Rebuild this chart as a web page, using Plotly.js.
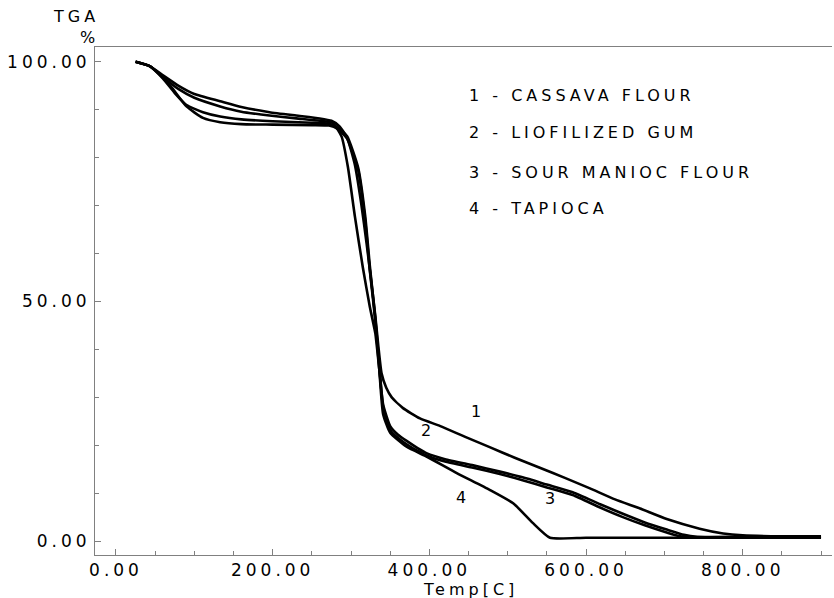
<!DOCTYPE html>
<html>
<head>
<meta charset="utf-8">
<script src="https://cdn.plot.ly/plotly-3.0.1.min.js"></script>
<style>
  html, body { margin: 0; padding: 0; background: #fff; }
  #chart { width: 834px; height: 598px; }
  .xtick text, .ytick text, .annotation-text { letter-spacing: 4px; }
</style>
</head>
<body>
<div id="chart"></div>
<script>
// ---- Data ----
const seriesNames = ['1 - CASSAVA FLOUR', '2 - LIOFILIZED GUM', '3 - SOUR MANIOC FLOUR', '4 - TAPIOCA'];

const t1 = [25, 43, 60, 80, 100, 133, 160, 196, 230, 260, 275, 285, 295, 305, 313, 320, 326, 331, 335, 339, 345, 352, 366, 388, 414, 445, 477, 509, 541, 573, 605, 637, 669, 703, 745, 775, 800, 850, 900];
const y1 = [100, 99.1, 97.2, 95.0, 93.3, 91.8, 90.6, 89.5, 88.8, 88.2, 87.7, 86.6, 84.2, 78.5, 70.5, 62, 54, 47, 40.5, 35, 32, 30, 27.8, 25.6, 24.0, 21.8, 19.6, 17.4, 15.3, 13.2, 11.0, 8.7, 6.8, 4.6, 2.6, 1.6, 1.2, 1.0, 1.0];

const t2 = [25, 43, 60, 80, 100, 133, 160, 196, 230, 260, 277, 288, 296, 305, 315, 324, 331, 336, 341, 350, 360, 371, 385, 397, 420, 456, 490, 519, 550, 583, 618, 647, 675, 703, 725, 742, 800, 900];
const y2 = [100, 99.1, 96.8, 94.3, 92.5, 90.7, 89.6, 88.8, 88.2, 87.7, 87.2, 84.4, 78.1, 67.7, 57.2, 48.9, 43.4, 36, 28.5, 24, 22.2, 20.9, 19.4, 18.3, 17.1, 15.8, 14.5, 13.3, 11.8, 10.2, 7.7, 5.7, 3.9, 2.4, 1.3, 0.9, 0.9, 0.9];

const t3 = [25, 43, 60, 75, 90, 111, 133, 160, 200, 250, 272, 283, 295, 309, 318, 324, 331, 336, 341, 350, 360, 371, 385, 397, 420, 456, 490, 519, 550, 583, 618, 647, 675, 703, 720, 735, 800, 900];
const y3 = [100, 99.1, 96.5, 93.5, 91.0, 89.5, 88.6, 88.0, 87.6, 87.3, 87.1, 86.3, 84.5, 78, 68, 57.5, 46.5, 37, 28, 23.2, 21.5, 20.2, 18.8, 17.8, 16.6, 15.3, 14.0, 12.7, 11.2, 9.6, 7.0, 5.0, 3.3, 1.8, 1.0, 0.8, 0.8, 0.8];

const t4 = [25, 43, 55, 70, 90, 111, 133, 160, 200, 250, 272, 283, 295, 309, 318, 324, 331, 336, 341, 350, 371, 397, 435, 477, 507, 532, 554, 600, 700, 800, 900];
const y4 = [100, 99.1, 97.5, 94.9, 90.7, 88.3, 87.4, 87.0, 86.9, 86.8, 86.7, 86.0, 84.0, 77.5, 67, 56.5, 46, 36, 26.5, 22.6, 19.7, 17.6, 14.2, 10.7, 7.9, 3.8, 0.7, 0.7, 0.7, 0.7, 0.7];

const xTickVals = [0, 200, 400, 600, 800];
const xTickText = ['0.00', '200.00', '400.00', '600.00', '800.00'];
const xMinorVals = [50, 100, 150, 250, 300, 350, 450, 500, 550, 650, 700, 750, 850, 900];
const yTickVals = [0, 50, 100];
const yTickText = ['0.00', '50.00', '100.00'];
const yMinorVals = [10, 20, 30, 40, 60, 70, 80, 90];

const curveLabels = ['1', '2', '3', '4'];
const curveLabelX = [462, 398, 556, 443];
const curveLabelY = [27.0, 23.0, 8.8, 9.2];

const legendY = [93.0, 85.2, 77.0, 69.3];
const legendX = 448;

// ---- Chart ----
const FONT = 'DejaVu Sans, Liberation Sans, Arial, sans-serif';
const AX = '#808080';
const xs = [t1, t2, t3, t4];
const ys = [y1, y2, y3, y4];

const traces = xs.map((tx, i) => ({
  x: tx, y: ys[i], type: 'scatter', mode: 'lines', name: seriesNames[i],
  line: { color: '#000', width: 2.6, shape: 'spline', smoothing: 0.5 },
  hoverinfo: 'skip'
}));

const annotations = [];
seriesNames.forEach((n, i) => annotations.push({
  x: legendX, y: legendY[i], xref: 'x', yref: 'y', text: n, showarrow: false,
  xanchor: 'left', yanchor: 'middle', font: { family: FONT, size: 16, color: '#000' }
}));
curveLabels.forEach((n, i) => annotations.push({
  x: curveLabelX[i], y: curveLabelY[i], xref: 'x', yref: 'y', text: n, showarrow: false,
  xanchor: 'center', yanchor: 'middle', font: { family: FONT, size: 16, color: '#000' }
}));
annotations.push({
  x: 0, y: 1, xref: 'paper', yref: 'paper', text: 'TGA<br>%', showarrow: false,
  xanchor: 'right', yanchor: 'bottom', align: 'right', xshift: 6, yshift: -2,
  font: { family: FONT, size: 16, color: '#000' }
});
annotations.push({
  x: 0.509, y: 0, xref: 'paper', yref: 'paper', text: 'Temp[C]', showarrow: false,
  xanchor: 'center', yanchor: 'middle', yshift: -34,
  font: { family: FONT, size: 16, color: '#000' }
});

const layout = {
  width: 834, height: 598,
  margin: { l: 95, r: 2, t: 47, b: 43, pad: 0 },
  paper_bgcolor: '#fff', plot_bgcolor: '#fff',
  showlegend: false,
  font: { family: FONT, size: 16, color: '#000' },
  xaxis: {
    range: [-26.8, 914], tickmode: 'array', tickvals: xTickVals, ticktext: xTickText,
    ticks: 'inside', ticklen: 6, tickcolor: AX, tickwidth: 1,
    showline: true, linecolor: AX, linewidth: 1, mirror: true,
    showgrid: false, zeroline: false,
    tickfont: { family: FONT, size: 17, color: '#000' },
    minor: { tickmode: 'array', tickvals: xMinorVals, ticks: 'inside', ticklen: 4, tickcolor: AX, showgrid: false }
  },
  yaxis: {
    range: [-2.9, 103.1], tickmode: 'array', tickvals: yTickVals, ticktext: yTickText,
    ticks: 'inside', ticklen: 6, tickcolor: AX, tickwidth: 1,
    showline: true, linecolor: AX, linewidth: 1, mirror: false,
    showgrid: false, zeroline: false,
    tickfont: { family: FONT, size: 17, color: '#000' },
    minor: { tickmode: 'array', tickvals: yMinorVals, ticks: 'inside', ticklen: 4, tickcolor: AX, showgrid: false }
  },
  annotations: annotations
};

Plotly.newPlot('chart', traces, layout, { staticPlot: true, displayModeBar: false });
</script>
</body>
</html>
